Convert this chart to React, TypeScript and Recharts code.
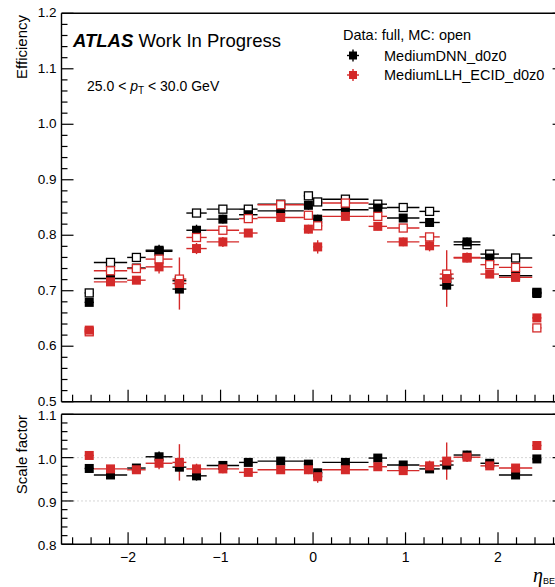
import React from "react";
import { ComposedChart, Scatter, XAxis, YAxis, ErrorBar, ReferenceLine } from "recharts";

// bin edges in eta (barrel/endcap binning)
const etaEdges = [
  -2.47, -2.37, -2.01, -1.81, -1.52, -1.37, -1.15, -0.8, -0.6, -0.1, 0, 0.1, 0.6, 0.8, 1.15,
  1.37, 1.52, 1.81, 2.01, 2.37, 2.47,
];

// efficiencies
const effDataDNN = [
  0.679, 0.722, 0.741, 0.773, 0.703, 0.809, 0.829, 0.837, 0.844, 0.854, 0.829, 0.846, 0.849,
  0.831, 0.823, 0.71, 0.788, 0.759, 0.727, 0.695,
];
const effMcDNN = [
  0.696, 0.751, 0.76, 0.771, 0.718, 0.84, 0.847, 0.847, 0.856, 0.871, 0.86, 0.865, 0.856, 0.85,
  0.843, 0.722, 0.783, 0.766, 0.759, 0.697,
];
const effDataLLH = [
  0.629, 0.716, 0.719, 0.743, 0.713, 0.776, 0.788, 0.804, 0.832, 0.811, 0.779, 0.834, 0.816,
  0.788, 0.781, 0.722, 0.76, 0.73, 0.724, 0.651,
];
const effMcLLH = [
  0.626, 0.736, 0.74, 0.757, 0.721, 0.796, 0.809, 0.83, 0.855, 0.836, 0.817, 0.858, 0.834,
  0.813, 0.797, 0.73, 0.759, 0.747, 0.742, 0.633,
];

const errDataDNN = [
  0.006, 0.005, 0.006, 0.01, 0.008, 0.01, 0.008, 0.006, 0.005, 0.008, 0.008, 0.005, 0.006,
  0.006, 0.008, 0.008, 0.008, 0.006, 0.005, 0.006,
];
const errDataLLH = [
  0.006, 0.006, 0.007, 0.012, 0.047, 0.01, 0.009, 0.007, 0.006, 0.008, 0.012, 0.006, 0.007,
  0.008, 0.01, 0.051, 0.009, 0.007, 0.006, 0.007,
];
const errMcDNN = [
  0.003, 0.002, 0.003, 0.003, 0.004, 0.003, 0.002, 0.003, 0.002, 0.003, 0.003, 0.002, 0.003,
  0.002, 0.003, 0.004, 0.003, 0.003, 0.002, 0.003,
];
const errMcLLH = [
  0.003, 0.002, 0.003, 0.003, 0.005, 0.003, 0.002, 0.003, 0.002, 0.003, 0.003, 0.002, 0.003,
  0.002, 0.003, 0.005, 0.003, 0.003, 0.002, 0.003,
];

// scale factors data/MC
const sfDNN = [
  0.975, 0.96, 0.976, 1.002, 0.978, 0.958, 0.982, 0.989, 0.992, 0.985, 0.965, 0.989, 0.999,
  0.983, 0.974, 0.983, 1.006, 0.987, 0.96, 0.997,
];
const sfLLH = [
  1.005, 0.974, 0.972, 0.987, 0.989, 0.974, 0.974, 0.966, 0.972, 0.972, 0.956, 0.972, 0.979,
  0.97, 0.981, 0.992, 1.001, 0.981, 0.976, 1.028,
];
const sfErrDNN = [
  0.008, 0.006, 0.008, 0.012, 0.01, 0.011, 0.009, 0.007, 0.006, 0.009, 0.009, 0.006, 0.007,
  0.007, 0.009, 0.01, 0.01, 0.008, 0.006, 0.008,
];
const sfErrLLH = [
  0.008, 0.007, 0.009, 0.014, 0.042, 0.012, 0.01, 0.008, 0.007, 0.01, 0.014, 0.007, 0.008,
  0.009, 0.012, 0.043, 0.011, 0.009, 0.007, 0.009,
];

const xMajorTicks = [-2, -1, 0, 1, 2];
const effMajorTicks = [0.5, 0.6, 0.7, 0.8, 0.9, 1.0, 1.1, 1.2];
const sfMajorTicks = [0.8, 0.9, 1.0, 1.1];

const FONT = "'Liberation Sans', Arial, Helvetica, sans-serif";
const RED = "#d42a2a";
const X_DOMAIN = [-2.72, 2.72];

function range(start: number, stop: number, step: number) {
  const out: number[] = [];
  for (let v = start; v <= stop + 1e-9; v += step) out.push(Math.round(v * 1000) / 1000);
  return out;
}

const xTicks = range(-2.6, 2.6, 0.2);
const effTicks = range(0.5, 1.2, 0.02);
const sfTicks = range(0.8, 1.1, 0.02);

const binCenters = etaEdges.slice(0, -1).map((lo, i) => (lo + etaEdges[i + 1]) / 2);
const binHalfWidths = etaEdges.slice(0, -1).map((lo, i) => (etaEdges[i + 1] - lo) / 2);

function makeRows(vals: number[], errs: number[]) {
  return vals.map((y, i) => ({ x: binCenters[i], y, ex: binHalfWidths[i], ey: errs[i] }));
}

const filledSquare = (color: string) => (props: any) => {
  const { cx, cy } = props;
  if (cx == null || cy == null) return <g />;
  return <rect x={cx - 4.5} y={cy - 4.5} width={9} height={9} fill={color} />;
};

const openSquare = (color: string) => (props: any) => {
  const { cx, cy } = props;
  if (cx == null || cy == null) return <g />;
  return (
    <rect x={cx - 4} y={cy - 4} width={8} height={8} fill="#fff" stroke={color} strokeWidth={1.3} />
  );
};

const isMajor = (v: number, majors: number[]) => majors.some((m) => Math.abs(m - v) < 1e-6);

const xTick = (side: "top" | "bottom", labels: boolean) => (props: any) => {
  const { x, y, payload } = props;
  const major = isMajor(payload.value, xMajorTicks);
  const len = major ? 12 : 7;
  const dir = side === "bottom" ? -1 : 1;
  return (
    <g>
      <line x1={x} y1={y} x2={x} y2={y + dir * len} stroke="#000" strokeWidth={1.2} />
      {labels && major && (
        <text x={x} y={y + 18} textAnchor="middle" fontSize={14} fontFamily={FONT} fill="#000">
          {payload.value < 0 ? `\u2212${Math.abs(payload.value)}` : payload.value}
        </text>
      )}
    </g>
  );
};

const yTick = (side: "left" | "right", majors: number[], labels: boolean, nudge = 0) => (props: any) => {
  const { x, y, payload } = props;
  const major = isMajor(payload.value, majors);
  const len = major ? 12 : 6;
  const dir = side === "left" ? 1 : -1;
  return (
    <g>
      <line x1={x} y1={y} x2={x + dir * len} y2={y} stroke="#000" strokeWidth={1.2} />
      {labels && major && (
        <text x={x - 5} y={y + 5 + nudge} textAnchor="end" fontSize={13.5} fontFamily={FONT} fill="#000">
          {Number(payload.value).toFixed(1)}
        </text>
      )}
    </g>
  );
};

function renderSeries(rows: any[], color: string, open: boolean, key: string) {
  return (
    <Scatter
      key={key}
      data={rows}
      dataKey="y"
      isAnimationActive={false}
      shape={open ? openSquare(color) : filledSquare(color)}
    >
      <ErrorBar dataKey="ex" direction="x" width={0} stroke={color} strokeWidth={1.4} isAnimationActive={false} />
      <ErrorBar dataKey="ey" direction="y" width={0} stroke={color} strokeWidth={1.4} isAnimationActive={false} />
    </Scatter>
  );
}

const axisLine = { stroke: "#000", strokeWidth: 1.4 };

function frameAxes(ticksY: number[], majorsY: number[], domainY: number[], xLabels: boolean, nudge: number) {
  return [
    <XAxis
      key="xb"
      xAxisId={0}
      type="number"
      dataKey="x"
      domain={X_DOMAIN}
      allowDataOverflow
      ticks={xTicks}
      interval={0}
      height={1}
      tickSize={0}
      tickMargin={0}
      tickLine={false}
      axisLine={axisLine}
      tick={xTick("bottom", xLabels)}
    />,
    <XAxis
      key="xt"
      xAxisId="t"
      orientation="top"
      type="number"
      domain={X_DOMAIN}
      allowDataOverflow
      ticks={xTicks}
      interval={0}
      height={1}
      tickSize={0}
      tickMargin={0}
      tickLine={false}
      axisLine={axisLine}
      tick={xTick("top", false)}
    />,
    <YAxis
      key="yl"
      yAxisId={0}
      type="number"
      dataKey="y"
      domain={domainY}
      allowDataOverflow
      ticks={ticksY}
      interval={0}
      width={61.5}
      tickSize={0}
      tickMargin={0}
      tickLine={false}
      axisLine={axisLine}
      tick={yTick("left", majorsY, true, nudge)}
    />,
    <YAxis
      key="yr"
      yAxisId="r"
      orientation="right"
      type="number"
      domain={domainY}
      allowDataOverflow
      ticks={ticksY}
      interval={0}
      width={1}
      tickSize={0}
      tickMargin={0}
      tickLine={false}
      axisLine={axisLine}
      tick={yTick("right", majorsY, false)}
    />,
  ];
}

export default function App() {
  const W = 580;
  return (
    <div
      style={{
        position: "fixed",
        left: 0,
        top: 0,
        width: 555,
        height: 587,
        overflow: "hidden",
        background: "#fff",
        fontFamily: FONT,
      }}
    >
      <div style={{ position: "absolute", left: 0, top: 0 }}>
        <ComposedChart
          width={W}
          height={420}
          margin={{ top: 12.3, right: 14.4, bottom: 17.3, left: 0 }}
          accessibilityLayer={false}
        >
          {frameAxes(effTicks, effMajorTicks, [0.5, 1.2], false, -1)}
          {renderSeries(makeRows(effMcDNN, errMcDNN), "#000", true, "mcdnn")}
          {renderSeries(makeRows(effDataDNN, errDataDNN), "#000", false, "datadnn")}
          {renderSeries(makeRows(effMcLLH, errMcLLH), RED, true, "mcllh")}
          {renderSeries(makeRows(effDataLLH, errDataLLH), RED, false, "datallh")}
        </ComposedChart>
      </div>

      <div style={{ position: "absolute", left: 0, top: 400 }}>
        <ComposedChart
          width={W}
          height={187}
          margin={{ top: 13.3, right: 14.4, bottom: 41.7, left: 0 }}
          accessibilityLayer={false}
        >
          {frameAxes(sfTicks, sfMajorTicks, [0.8, 1.1], true, 1)}
          <ReferenceLine y={1.0} stroke="#aaa" strokeDasharray="1 3" strokeWidth={1} />
          <ReferenceLine y={0.9} stroke="#aaa" strokeDasharray="1 3" strokeWidth={1} />
          {renderSeries(makeRows(sfDNN, sfErrDNN), "#000", false, "sfdnn")}
          {renderSeries(makeRows(sfLLH, sfErrLLH), RED, false, "sfllh")}
        </ComposedChart>
      </div>

      <svg
        width={555}
        height={587}
        style={{ position: "absolute", left: 0, top: 0, pointerEvents: "none" }}
        fontFamily={FONT}
      >
        <text transform="translate(27.3, 15) rotate(-90)" textAnchor="end" fontSize={15}>
          Efficiency
        </text>
        <text transform="translate(27.3, 415) rotate(-90)" textAnchor="end" fontSize={15}>
          Scale factor
        </text>

        <text x={73} y={47} fontSize={18.5}>
          <tspan fontWeight="bold" fontStyle="italic">ATLAS</tspan>
          <tspan> Work In Progress</tspan>
        </text>
        <text x={87} y={90.5} fontSize={14}>
          25.0 &lt; <tspan fontStyle="italic">p</tspan>
          <tspan fontSize={10} dy={3}>T</tspan>
          <tspan dy={-3}> &lt; 30.0 GeV</tspan>
        </text>

        <text x={343} y={40} fontSize={14.5}>
          Data: full, MC: open
        </text>
        <g>
          <line x1={347} x2={359} y1={55.5} y2={55.5} stroke="#000" strokeWidth={1.4} />
          <line x1={353} x2={353} y1={49.5} y2={61.5} stroke="#000" strokeWidth={1.4} />
          <rect x={349} y={51.5} width={8} height={8} fill="#000" />
          <text x={384} y={60.5} fontSize={14.5}>
            MediumDNN_d0z0
          </text>
        </g>
        <g>
          <line x1={347} x2={359} y1={75} y2={75} stroke={RED} strokeWidth={1.4} />
          <line x1={353} x2={353} y1={69} y2={81} stroke={RED} strokeWidth={1.4} />
          <rect x={349} y={71} width={8} height={8} fill={RED} />
          <text x={384} y={80} fontSize={14.5}>
            MediumLLH_ECID_d0z0
          </text>
        </g>

        <text x={533} y={582} fontSize={20} fontStyle="italic" fontFamily="'Liberation Serif', serif">
          η
        </text>
        <text x={543} y={584} fontSize={9}>
          BE
        </text>
      </svg>
    </div>
  );
}
